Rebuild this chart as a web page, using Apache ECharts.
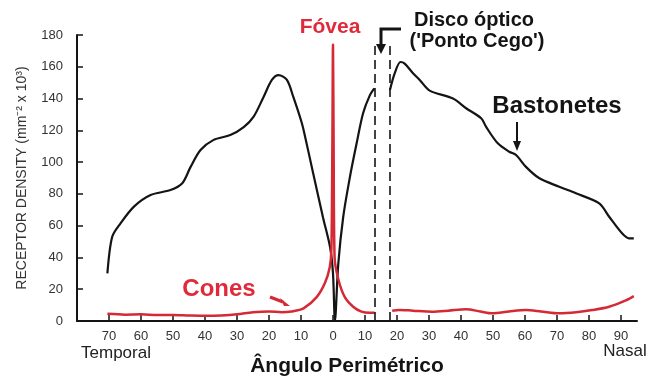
<!DOCTYPE html>
<html>
<head>
<meta charset="utf-8">
<script src="https://cdn.jsdelivr.net/npm/echarts@6/dist/echarts.min.js"></script>
<style>
  html, body { margin: 0; padding: 0; background: #fff; }
  #chart { width: 647px; height: 383px; }
</style>
</head>
<body>
<div id="chart"></div>
<script>
// Angular position in degrees: temporal side negative, nasal side positive.
// Rod density (x10^3 / mm^2), split at the optic disc (no receptors there).
const rodAnglesTemporal = [-70.5, -69, -66.4, -62.2, -57, -50.8, -47.1, -44.5, -41.4, -37.3, -32.1, -27.9, -24.8, -21.7, -19.1, -17, -14.4, -12.4, -9.75, -8.7, -6.2, -3.1, -0.93, 0, 0.6, 1.65, 3.2, 5.3, 7.4, 9.4, 11.5, 12.9];
const rodDensityTemporal = [30, 53, 61.5, 72, 79.3, 82.4, 86.7, 97, 107.6, 114, 117, 122, 128.6, 141, 151.7, 154.8, 151.7, 141, 124.6, 115.8, 93, 65, 46.6, 30, 0, 36, 65.6, 90.8, 112, 130.7, 142, 146.4];
const rodAnglesNasal = [17.8, 19.3, 21.1, 22.4, 25, 27.1, 30.2, 37.5, 41.6, 46.3, 47.9, 51.5, 55.1, 57.2, 60.3, 64.5, 70.7, 75.9, 83.2, 86.3, 90.4, 92.5, 94];
const rodDensityNasal = [145.4, 156, 163, 162, 156, 151.7, 145, 140, 133.9, 127.6, 122, 111.8, 106.5, 104.5, 97, 89.8, 84.5, 80.4, 74, 65.6, 55, 52, 52];

// Cone density, same split.
const coneAnglesTemporal = [-70.5, -65, -60, -55, -50, -45, -40, -35, -30, -25, -20, -16, -13, -9.2, -5.1, -2.5, -1, -0.5, -0.2, 0, 0.2, 0.5, 1.7, 3.7, 6.3, 8.9, 11.5, 13];
const coneDensityTemporal = [4.5, 4, 4.2, 3.8, 3.8, 3.5, 3.3, 3.5, 4.2, 5.5, 6, 5.5, 6, 8, 15, 24, 34, 45, 110, 174, 110, 40, 26, 15, 9, 5.9, 5.2, 5.2];
const coneAnglesNasal = [18.5, 20.6, 25, 31, 36, 41.6, 46, 49.8, 55, 60.3, 65, 70.7, 76, 81, 86.3, 91.5, 94];
const coneDensityNasal = [6.5, 7, 6.5, 5.9, 6.5, 7.4, 6, 4.8, 6, 6.9, 6, 4.8, 5.5, 6.9, 9, 13, 15.7];

// Optic disc edges (degrees) and the top of the dashed markers.
const opticDiscEdges = [13, 17.8];
const opticDiscTop = 174;

// Axis ticks.
const xTickValues = [-70, -60, -50, -40, -30, -20, -10, 0, 10, 20, 30, 40, 50, 60, 70, 80, 90];
const yTicks = { min: 0, max: 180, step: 20 };

const zip = (xs, ys) => xs.map((x, i) => [x, ys[i]]);

const FONT = '"Liberation Sans", Arial, Helvetica, sans-serif';
const BLACK = '#141414';
const RED = '#d42a36';
const RED_TEXT = '#e02a3c';

const chart = echarts.init(document.getElementById('chart'), null, { renderer: 'canvas' });

const lineBase = {
  type: 'line',
  showSymbol: false,
  symbol: 'none',
  smooth: 0.3,
  silent: true,
  z: 3
};

chart.setOption({
  animation: false,
  backgroundColor: '#ffffff',
  grid: { left: 77, right: 10, top: 35, bottom: 62, containLabel: false },
  xAxis: {
    type: 'value',
    min: -80,
    max: 95,
    interval: 10,
    splitLine: { show: false },
    axisLine: { show: true, onZero: false, lineStyle: { color: BLACK, width: 2 } },
    axisTick: { show: true, inside: true, length: 6, customValues: xTickValues, lineStyle: { color: BLACK, width: 1.5 } },
    axisLabel: {
      customValues: xTickValues,
      formatter: v => String(Math.abs(v)),
      margin: 9,
      color: '#333',
      fontFamily: FONT,
      fontSize: 13
    }
  },
  yAxis: {
    type: 'value',
    min: yTicks.min,
    max: yTicks.max,
    interval: yTicks.step,
    splitLine: { show: false },
    axisLine: { show: true, onZero: false, lineStyle: { color: BLACK, width: 2 } },
    axisTick: { show: true, inside: true, length: 6, lineStyle: { color: BLACK, width: 1.5 } },
    axisLabel: { margin: 14, color: '#333', fontFamily: FONT, fontSize: 13 },
    name: 'RECEPTOR DENSITY (mm⁻² x 10³)',
    nameLocation: 'middle',
    nameGap: 48,
    nameTextStyle: { color: '#333', fontFamily: FONT, fontSize: 14 }
  },
  series: [
    Object.assign({}, lineBase, {
      name: 'Bastonetes temporal',
      data: zip(rodAnglesTemporal, rodDensityTemporal),
      lineStyle: { color: BLACK, width: 2.2 },
      markLine: {
        silent: true,
        symbol: 'none',
        label: { show: false },
        lineStyle: { color: BLACK, width: 1.6, type: [9, 5] },
        data: opticDiscEdges.map(x => [{ coord: [x, 0] }, { coord: [x, opticDiscTop] }])
      }
    }),
    Object.assign({}, lineBase, {
      name: 'Bastonetes nasal',
      data: zip(rodAnglesNasal, rodDensityNasal),
      lineStyle: { color: BLACK, width: 2.2 }
    }),
    Object.assign({}, lineBase, {
      name: 'Cones temporal',
      data: zip(coneAnglesTemporal, coneDensityTemporal),
      lineStyle: { color: RED, width: 2.5 },
      z: 4
    }),
    Object.assign({}, lineBase, {
      name: 'Cones nasal',
      data: zip(coneAnglesNasal, coneDensityNasal),
      lineStyle: { color: RED, width: 2.5 },
      z: 4
    })
  ],
  graphic: [
    // Annotation labels
    { type: 'text', x: 330, y: 27, style: { text: 'Fóvea', fill: RED_TEXT, font: 'bold 21px ' + FONT, align: 'center', verticalAlign: 'middle' } },
    { type: 'text', x: 474, y: 20, style: { text: 'Disco óptico', fill: BLACK, font: 'bold 20px ' + FONT, align: 'center', verticalAlign: 'middle' } },
    { type: 'text', x: 477, y: 41, style: { text: "('Ponto Cego')", fill: BLACK, font: 'bold 20px ' + FONT, align: 'center', verticalAlign: 'middle' } },
    { type: 'text', x: 557, y: 106, style: { text: 'Bastonetes', fill: BLACK, font: 'bold 24px ' + FONT, align: 'center', verticalAlign: 'middle' } },
    { type: 'text', x: 219, y: 289, style: { text: 'Cones', fill: RED_TEXT, font: 'bold 24px ' + FONT, align: 'center', verticalAlign: 'middle' } },
    { type: 'text', x: 347, y: 366, style: { text: 'Ângulo Perimétrico', fill: BLACK, font: 'bold 21px ' + FONT, align: 'center', verticalAlign: 'middle' } },
    { type: 'text', x: 116, y: 353, style: { text: 'Temporal', fill: '#222', font: '17px ' + FONT, align: 'center', verticalAlign: 'middle' } },
    { type: 'text', x: 625, y: 351, style: { text: 'Nasal', fill: '#222', font: '17px ' + FONT, align: 'center', verticalAlign: 'middle' } },

    // Optic disc bracket arrow
    { type: 'polyline', shape: { points: [[401, 29], [381, 29], [381, 45]] }, style: { stroke: BLACK, lineWidth: 3, fill: null } },
    { type: 'polygon', shape: { points: [[376, 44], [386, 44], [381, 54]] }, style: { fill: BLACK } },

    // Arrow under "Bastonetes"
    { type: 'line', shape: { x1: 517, y1: 122, x2: 517, y2: 143 }, style: { stroke: BLACK, lineWidth: 2 } },
    { type: 'polygon', shape: { points: [[513, 141], [521, 141], [517, 151]] }, style: { fill: BLACK } },

    // Arrow next to "Cones"
    { type: 'line', shape: { x1: 270, y1: 297, x2: 283, y2: 302 }, style: { stroke: RED, lineWidth: 3.2 } },
    { type: 'polygon', shape: { points: [[280, 298], [284, 306], [290, 306]] }, style: { fill: RED } }
  ]
});
</script>
</body>
</html>
